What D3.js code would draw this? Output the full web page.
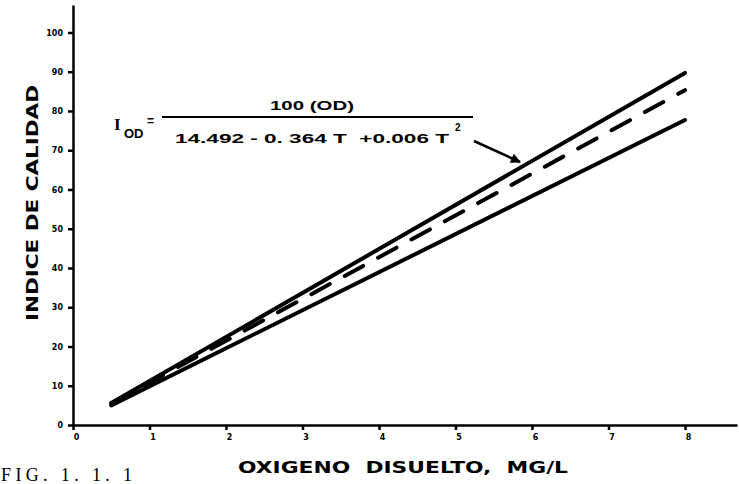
<!DOCTYPE html>
<meta charset="utf-8">
<style>
  body { margin: 0; background: #fff; }
  text { fill: #000; }
  .axis path, .axis line { stroke: #000; stroke-width: 2.5; }
  .axis text { font-family: "DejaVu Sans", sans-serif; font-weight: bold; font-size: 8px; }
</style>
<body>
<svg width="739" height="484"></svg>

<script src="https://cdn.jsdelivr.net/npm/d3@7/dist/d3.min.js"></script>
<script>

// Data
var oxygen  = [0.5, 8];            // OD, mg/L
var upper   = [5.6, 89.7];         // solid, top
var dashed  = [5.5, 85.3];         // dashed, middle
var lower   = [5.0, 77.7];         // solid, bottom
var yTicks  = [0, 10, 20, 30, 40, 50, 60, 70, 80, 90, 100];
var xTicks  = [0, 1, 2, 3, 4, 5, 6, 7, 8];

var svg = d3.select("svg");

// Set the ranges
var x = d3.scaleLinear().domain([0, 8.68]).range([73, 737]),
    y = d3.scaleLinear().domain([0, 107]).range([425, 5]);

// Define the axes
var xAxis = d3.axisBottom(x).tickValues(xTicks).tickSize(5).tickSizeOuter(0).tickFormat(d3.format("d")),
    yAxis = d3.axisLeft(y).tickValues(yTicks).tickSize(5).tickSizeOuter(0).tickFormat(d3.format("d"));

svg.append("g")
    .attr("class", "axis")
    .attr("transform", "translate(0," + y(0) + ")")
    .call(xAxis)
    .call(function(g) { g.selectAll("text").attr("dy", "0.9em").attr("dx", "3"); });

svg.append("g")
    .attr("class", "axis")
    .attr("transform", "translate(" + x(0) + ",0)")
    .call(yAxis)
    .call(function(g) { g.selectAll("text").attr("dx", "-2"); });

// Define the line
var line = d3.line()
    .x(function(d) { return x(d[0]); })
    .y(function(d) { return y(d[1]); });

function series(vals) { return oxygen.map(function(o, i) { return [o, vals[i]]; }); }

svg.append("path").datum(series(upper))
    .attr("d", line).attr("fill", "none").attr("stroke", "#000")
    .attr("stroke-width", 4).attr("stroke-linecap", "round");

svg.append("path").datum(series(lower))
    .attr("d", line).attr("fill", "none").attr("stroke", "#000")
    .attr("stroke-width", 4).attr("stroke-linecap", "round");

svg.append("path").datum(series(dashed))
    .attr("d", line).attr("fill", "none").attr("stroke", "#000")
    .attr("stroke-width", 4).attr("stroke-linecap", "round")
    .attr("stroke-dasharray", "21,17");

// Axis titles
svg.append("text")
    .attr("transform", "translate(38,203) rotate(-90)")
    .attr("text-anchor", "middle")
    .attr("textLength", 236).attr("lengthAdjust", "spacingAndGlyphs")
    .style("font-family", "'DejaVu Sans', sans-serif")
    .style("font-weight", "bold").style("font-size", "16px")
    .text("INDICE DE CALIDAD");

svg.append("text")
    .attr("x", 403).attr("y", 473)
    .attr("text-anchor", "middle")
    .attr("textLength", 330).attr("lengthAdjust", "spacingAndGlyphs")
    .style("font-family", "'DejaVu Sans', sans-serif")
    .style("font-weight", "bold").style("font-size", "15px")
    .attr("xml:space", "preserve")
    .text("OXIGENO  DISUELTO,  MG/L");

// Figure caption at the bottom edge
svg.append("text")
    .attr("x", 1).attr("y", 481)
    .attr("textLength", 131).attr("lengthAdjust", "spacing")
    .style("font-family", "'Liberation Serif', serif")
    .style("font-size", "18px")
    .text("FIG.  1.  1.  1");

// Equation
var eq = svg.append("g")
    .style("font-family", "'Liberation Sans', sans-serif")
    .style("font-weight", "bold");

eq.append("text").attr("x", 114).attr("y", 130)
    .style("font-family", "'Liberation Serif', serif").style("font-size", "17px")
    .text("I");
eq.append("text").attr("x", 124).attr("y", 138).style("font-size", "13px").text("OD");
eq.append("text").attr("x", 147).attr("y", 125).style("font-size", "12px").text("=");

eq.append("line")
    .attr("x1", 162).attr("x2", 473).attr("y1", 117).attr("y2", 117)
    .attr("stroke", "#000").attr("stroke-width", 2);

eq.append("text").attr("x", 312).attr("y", 110)
    .attr("text-anchor", "middle").style("font-size", "12px")
    .attr("textLength", 84).attr("lengthAdjust", "spacingAndGlyphs")
    .attr("xml:space", "preserve")
    .text("100 (OD)");

eq.append("text").attr("x", 175).attr("y", 143)
    .style("font-size", "12px")
    .attr("textLength", 274).attr("lengthAdjust", "spacingAndGlyphs")
    .attr("xml:space", "preserve")
    .text("14.492 - 0. 364 T  +0.006 T");

eq.append("text").attr("x", 455).attr("y", 131).style("font-size", "10px").text("2");

// Arrow to the upper line
svg.append("defs").append("marker")
    .attr("id", "arrow").attr("viewBox", "0 0 10 10")
    .attr("refX", 9).attr("refY", 5)
    .attr("markerWidth", 5).attr("markerHeight", 4)
    .attr("orient", "auto")
    .append("path").attr("d", "M0,0L10,5L0,10Z").attr("fill", "#000");

svg.append("line")
    .attr("x1", 474).attr("y1", 141).attr("x2", 520).attr("y2", 162)
    .attr("stroke", "#000").attr("stroke-width", 2.5)
    .attr("marker-end", "url(#arrow)");

</script>
</body>
